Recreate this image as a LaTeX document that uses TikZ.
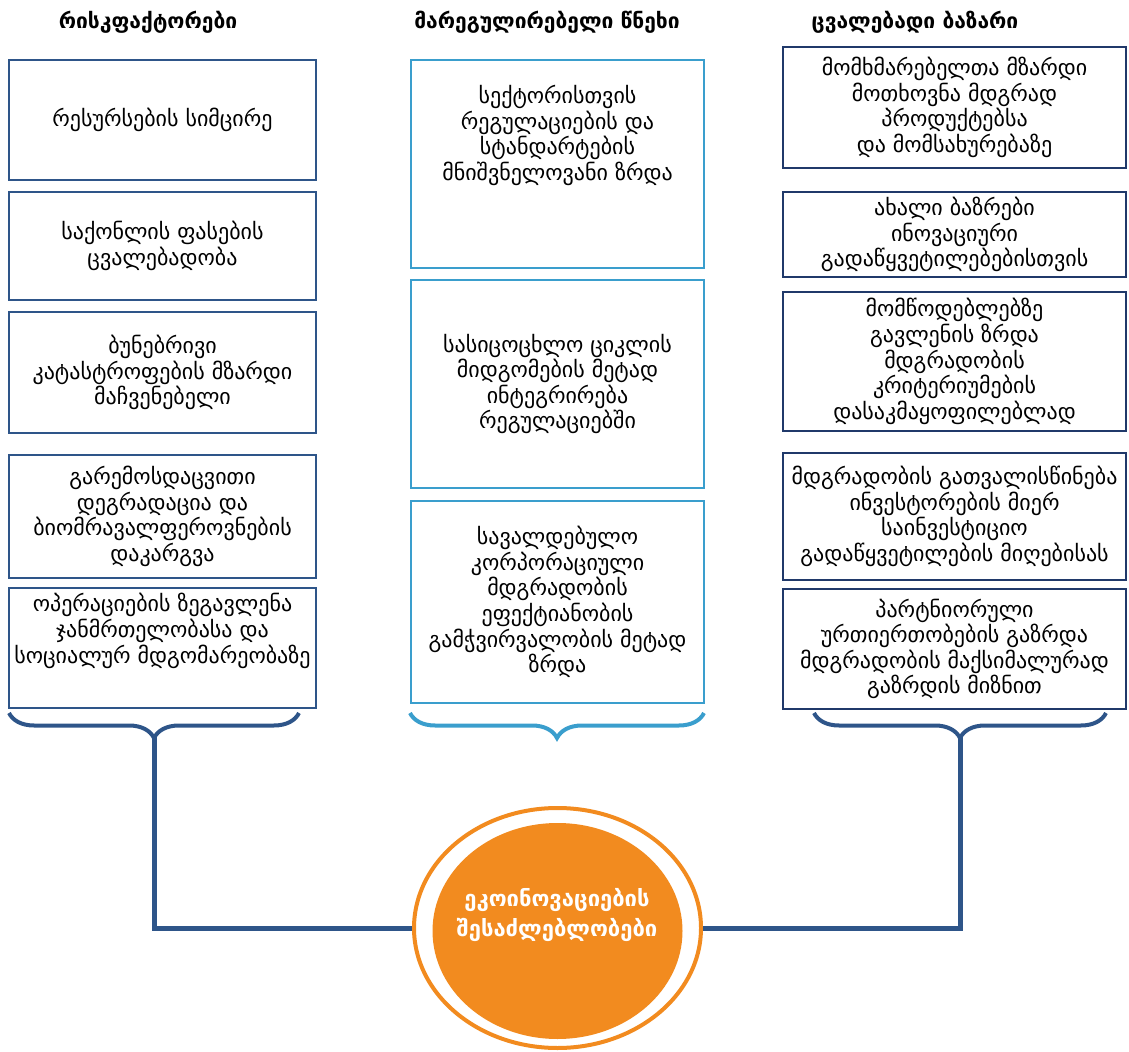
\documentclass[tikz,border=0pt]{standalone}
\usepackage{fontspec}
\setmainfont{DejaVu Sans}
\usepackage{xcolor}
\usepackage{tikz}
\usetikzlibrary{shapes.geometric,positioning,calc,decorations.pathreplacing}

\definecolor{riskblue}{HTML}{2E5589}
\definecolor{mktnavy}{HTML}{20396A}
\definecolor{regcyan}{HTML}{3A9ECD}
\definecolor{ecoorange}{HTML}{F28B1F}

\tikzset{
    head/.style={font=\bfseries\fontsize{10.5}{12}\selectfont},
    gtext/.style={align=center, inner sep=2pt, font=\fontsize{11}{12.8}\selectfont},
    riskbox/.style={gtext, draw=riskblue, line width=1pt, minimum width=153.5pt},
    regbox/.style={gtext, draw=regcyan, line width=1pt, minimum width=146.5pt},
    mktbox/.style={gtext, draw=mktnavy, line width=1.2pt, minimum width=171.5pt},
    gbrace/.style={decorate, decoration={brace, mirror, amplitude=12.5pt}, line width=2pt},
    link/.style={draw=riskblue, line width=2.5pt}
}

\begin{document}
\begin{tikzpicture}[x=0.5pt, y=-0.5pt]
    \useasboundingbox (0,0) rectangle (1129,1052);

    % column titles
    \node[head] (hrisk) at (148,22) {რისკფაქტორები};
    \node[head] (hreg) at (547,22) {მარეგულირებელი წნეხი};
    \node[head] (hmkt) at (915,22) {ცვალებადი ბაზარი};

    % risk factors
    \node[riskbox, minimum height=60pt] (risk1) at (162.5,120) {რესურსების სიმცირე};
    \node[riskbox, minimum height=54pt] (risk2) at (162.5,246) {საქონლის ფასების\\ცვალებადობა};
    \node[riskbox, minimum height=60.5pt] (risk3) at (162.5,372.5) {ბუნებრივი\\კატასტროფების მზარდი\\მაჩვენებელი};
    \node[riskbox, minimum height=61.5pt] (risk4) at (162.5,516.5) {გარემოსდაცვითი\\დეგრადაცია და\\ბიომრავალფეროვნების\\დაკარგვა};
    \node[riskbox, minimum height=60pt] (risk5) at (162.5,648) {};
    \node[gtext, below=1pt of risk5.north] (risk5t) {ოპერაციების ზეგავლენა\\ჯანმრთელობასა და\\სოციალურ მდგომარეობაზე};

    % regulatory pressure
    \node[regbox, minimum height=104pt] (reg1) at (557.5,164) {};
    \node[gtext, below=11pt of reg1.north] (reg1t) {სექტორისთვის\\რეგულაციების და\\სტანდარტების\\მნიშვნელოვანი ზრდა};
    \node[regbox, minimum height=104pt] (reg2) at (557.5,384) {სასიცოცხლო ციკლის\\მიდგომების მეტად\\ინტეგრირება\\რეგულაციებში};
    \node[regbox, minimum height=101pt] (reg3) at (557.5,602) {სავალდებულო\\კორპორაციული\\მდგრადობის\\ეფექტიანობის\\გამჭვირვალობის მეტად\\ზრდა};

    % changing market
    \node[mktbox, minimum height=60.5pt] (mkt1) at (954.5,107.5) {მომხმარებელთა მზარდი\\მოთხოვნა მდგრად\\პროდუქტებსა\\და მომსახურებაზე};
    \node[mktbox, minimum height=42.5pt] (mkt2) at (954.5,234.5) {ახალი ბაზრები\\ინოვაციური\\გადაწყვეტილებებისთვის};
    \node[mktbox, minimum height=69.5pt] (mkt3) at (954.5,361.5) {მომწოდებლებზე\\გავლენის ზრდა\\მდგრადობის\\კრიტერიუმების\\დასაკმაყოფილებლად};
    \node[mktbox, minimum height=63.5pt] (mkt4) at (954.5,516.5) {მდგრადობის გათვალისწინება\\ინვესტორების მიერ\\საინვესტიციო\\გადაწყვეტილების მიღებისას};
    \node[mktbox, minimum height=60pt] (mkt5) at (954.5,649) {პარტნიორული\\ურთიერთობების გაზრდა\\მდგრადობის მაქსიმალურად\\გაზრდის მიზნით};

    % braces
    \draw[gbrace, riskblue] (9,713) -- (299,713);
    \draw[gbrace, regcyan] (410,713) -- (704,713);
    \draw[gbrace, riskblue] (814,713) -- (1106,713);
    \coordinate (risktip) at (154,736);
    \coordinate (mkttip) at (960,736);

    % eco-innovation
    \node[ellipse, draw=ecoorange, line width=2pt, inner sep=0pt, minimum width=143.5pt, minimum height=120pt] (eco) at (557.5,928) {};
    \node[ellipse, fill=ecoorange, inner sep=0pt, minimum width=125pt, minimum height=108pt] (ecoin) at (557.5,931) {};
    \node[align=center, text=white, font=\bfseries\fontsize{11}{15}\selectfont] (ecotext) at (557,915) {ეკოინოვაციების\\შესაძლებლობები};

    \draw[link] (risktip) |- (eco.west);
    \draw[link] (mkttip) |- (eco.east);
\end{tikzpicture}
\end{document}
